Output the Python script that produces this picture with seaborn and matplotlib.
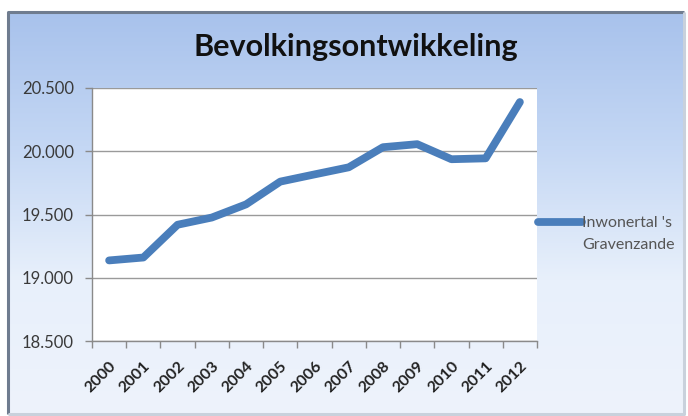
import numpy as np
import pandas as pd
import matplotlib
matplotlib.use("Agg")
import matplotlib.pyplot as plt
import seaborn as sns
from matplotlib.colors import LinearSegmentedColormap
from matplotlib.lines import Line2D

years = ["2000", "2001", "2002", "2003", "2004", "2005", "2006",
         "2007", "2008", "2009", "2010", "2011", "2012"]
inwoners = [19137, 19160, 19419, 19476, 19580, 19760, 19817,
            19873, 20032, 20056, 19937, 19944, 20389]
y_ticks = [18500, 19000, 19500, 20000, 20500]
y_labels = ["18.500", "19.000", "19.500", "20.000", "20.500"]
series_lines = ["Inwonertal 's", "Gravenzande"]
title = "Bevolkingsontwikkeling"

sns.set_theme(style="white")
plt.rcParams["font.family"] = ["Lato", "DejaVu Sans"]

W, H = 688, 416
fig = plt.figure(figsize=(W / 100, H / 100), dpi=100)
fig.patch.set_facecolor("white")

# background gradient frame (x 8..684, y 12..414)
fx0, fx1, fy0, fy1 = 8, 684, 12, 414
bg = fig.add_axes([fx0 / W, (H - fy1) / H, (fx1 - fx0) / W, (fy1 - fy0) / H], zorder=-5)
cmap = LinearSegmentedColormap.from_list("bg", ["#a8c2ec", "#c4d7f4", "#e8f0fb", "#eef3fc"])
grad = np.linspace(0, 1, 256).reshape(-1, 1)
bg.imshow(grad, aspect="auto", cmap=cmap, extent=[0, 1, 0, 1], origin="upper")
bg.set_xlim(0, 1)
bg.set_ylim(0, 1)
bg.axis("off")
bg.plot([0, 0, 1], [0, 1, 1], transform=bg.transAxes, color="#6f7c8f",
        linewidth=2.2, clip_on=False, solid_capstyle="butt")
bg.plot([0, 1, 1], [0, 0, 1], transform=bg.transAxes, color="#c9d1dc",
        linewidth=2.2, clip_on=False, solid_capstyle="butt")

# main plot area
x0, x1, y0, y1 = 92, 537, 88, 341
ax = fig.add_axes([x0 / W, (H - y1) / H, (x1 - x0) / W, (y1 - y0) / H])
ax.set_facecolor("white")

df = pd.DataFrame({"Jaar": years, "Inwoners": inwoners})
line_color = "#4a7ebb"
sns.lineplot(data=df, x="Jaar", y="Inwoners", ax=ax, color=line_color,
             linewidth=5.6, solid_capstyle="round", solid_joinstyle="round",
             legend=False, zorder=3)

ax.set_xlim(-0.5, len(years) - 0.5)
ax.set_ylim(y_ticks[0], y_ticks[-1])
ax.set_yticks(y_ticks)
ax.set_yticklabels(y_labels)
ax.yaxis.grid(True, color="#9a9a9a", linewidth=1.0)
ax.xaxis.grid(False)
ax.set_xticks(range(len(years)))
ax.set_xticklabels(years, rotation=45, ha="right", rotation_mode="anchor",
                   fontsize=11.5, fontweight="bold", color="#222222")
ax.set_xticks(np.arange(-0.5, len(years), 1.0), minor=True)
ax.tick_params(axis="x", which="major", length=0, pad=13)
ax.tick_params(axis="x", which="minor", length=5, color="#8a8a8a", width=1,
               direction="out", bottom=True)
ax.tick_params(axis="y", which="major", length=5, color="#8a8a8a", width=1,
               direction="out", left=True, labelsize=12, labelcolor="#3a3a3a",
               pad=8)
ax.set_xlabel("")
ax.set_ylabel("")
for s in ["top", "right"]:
    ax.spines[s].set_visible(False)
for s in ["left", "bottom"]:
    ax.spines[s].set_color("#8a8a8a")
    ax.spines[s].set_linewidth(1.0)

fig.text(356 / W, 1 - 47 / H, title, ha="center", va="center",
         fontsize=22, fontweight="bold", color="#111111")

# legend: handle aligned with first text line
handle = Line2D([], [], color=line_color, linewidth=5.6)
leg = fig.legend([handle], [series_lines[0]], loc="center left",
                 bbox_to_anchor=(538 / W, 1 - 223 / H), frameon=False,
                 fontsize=11.5, handlelength=2.75, handletextpad=0.0,
                 labelcolor="#555555", borderaxespad=0, borderpad=0)
fig.text(582 / W, 1 - 245 / H, series_lines[1], ha="left", va="center",
         fontsize=11.5, color="#555555")

fig.savefig("out.png", dpi=100)
